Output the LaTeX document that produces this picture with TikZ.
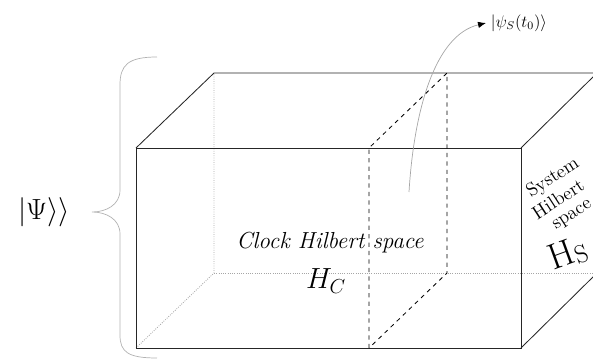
\documentclass[tikz,border=0pt]{standalone}
\usepackage{amsmath}
\usepackage{tikz}
\usetikzlibrary{arrows.meta, positioning}

\begin{document}
\begin{tikzpicture}[
    x=0.025cm, y=-0.025cm,
    edge/.style={black!85, line width=0.6pt},
    hidden/.style={gray!70, densely dotted, line width=0.6pt},
    slice/.style={black, dashed, line width=0.6pt},
    brace/.style={gray!60, line width=0.5pt},
    arrow/.style={-{Latex[length=2mm, width=1.6mm, color=black]}, gray!70, line width=0.5pt},
    space/.style={font=\fontsize{16.5}{18}\selectfont\itshape},
    side/.style={font=\fontsize{13.5}{15}\selectfont, rotate=33, inner sep=0pt}
]
    \useasboundingbox (0,0) rectangle (593,362);
    \clip (0,0) rectangle (593,362);

    % corners of the box
    \coordinate (ftl) at (136,148);
    \coordinate (ftr) at (521,148);
    \coordinate (fbl) at (136,348);
    \coordinate (fbr) at (521,348);
    \coordinate (btl) at (214,73);
    \coordinate (btr) at (597,73);
    \coordinate (bbl) at (214,273);
    \coordinate (bbr) at (597,273);
    % the slice
    \coordinate (sft) at (369,148);
    \coordinate (sfb) at (369,348);
    \coordinate (sbt) at (447,73);
    \coordinate (sbb) at (447,273);

    % hidden edges
    \draw[hidden] (fbl) -- (bbl) -- (btl);
    \draw[hidden] (bbl) -- (bbr);

    % visible edges
    \draw[edge] (ftl) rectangle (fbr);
    \draw[edge] (ftl) -- (btl) -- (btr);
    \draw[edge] (ftr) -- (btr);
    \draw[edge] (fbr) -- (bbr);

    % the slice at t0
    \draw[slice] (sfb) -- (sft) -- (sbt) -- (sbb) -- cycle;

    % brace
    \draw[brace] (157,57) .. controls (128,57) and (120,65) .. (120,85) -- (120,190)
        .. controls (120,205) and (106,212) .. (92,212)
        .. controls (106,212) and (120,219) .. (120,234) -- (120,335)
        .. controls (120,352) and (128,358) .. (157,358);

    % labels
    \node[font=\fontsize{22}{24}\selectfont] (Psi) at (44,212) {$|\Psi\rangle\rangle$};
    \node[space] (clock) at (330,243) {Clock Hilbert space};
    \node[font=\fontsize{21}{22}\selectfont] (HC) at (326,281) {$H_C$};
    \node[side] (sys1) at (553,178) {System};
    \node[side] (sys2) at (558,199) {Hilbert};
    \node[side] (sys3) at (573,216) {space};
    \node[font=\fontsize{26}{28}\selectfont, rotate=20] (HS) at (568,254) {H\raisebox{-2pt}{\fontsize{18}{19}\selectfont S}};
    \node[font=\fontsize{12}{13}\selectfont, anchor=west] (psi) at (486,23) {$|\psi_S(t_0)\rangle$};

    \coordinate (psistart) at (409,192);
    \draw[arrow] (psistart) .. controls (414,110) and (435,35) .. (psi.west);
\end{tikzpicture}
\end{document}
